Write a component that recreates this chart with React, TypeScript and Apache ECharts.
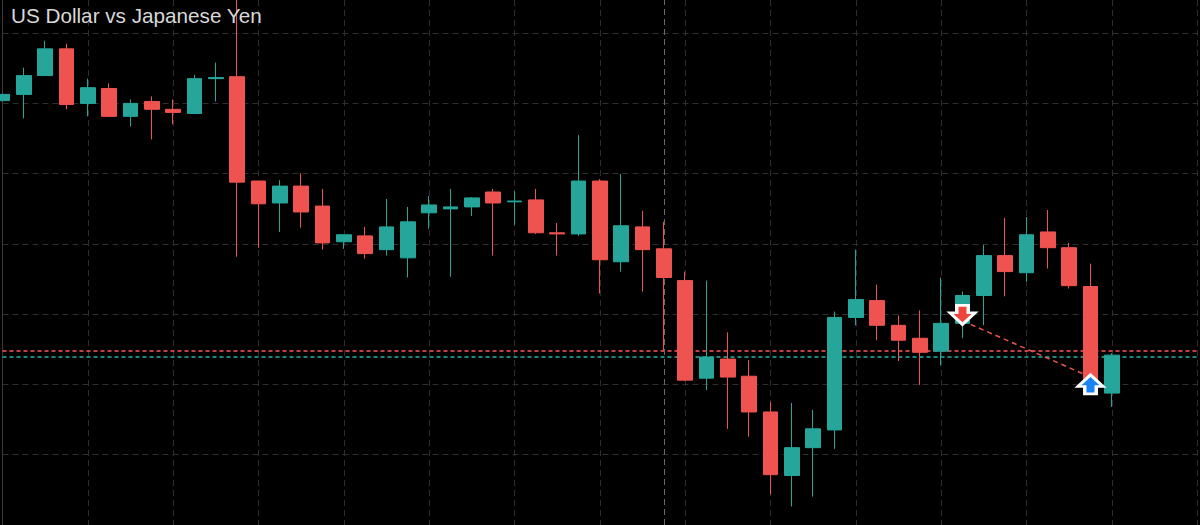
import React, { useEffect, useRef } from "react";
import * as echarts from "echarts";

// ---- data (prices) ----
const categories = Array.from({ length: 57 }, (_, i) => String(i));

const opens = [
  150.759, 150.781, 150.848, 150.943, 150.749, 150.802, 150.703, 150.756, 150.728, 150.713,
  150.837, 150.844, 150.473, 150.395, 150.455, 150.384, 150.257, 150.278, 150.229, 150.200,
  150.360, 150.374, 150.381, 150.434, 150.399, 150.406, 150.289, 150.285, 150.473, 150.186,
  150.310, 150.232, 150.119, 149.772, 149.840, 149.779, 149.652, 149.426, 149.525, 149.588,
  149.988, 150.048, 149.960, 149.914, 149.868, 149.967, 150.066, 150.208, 150.147, 150.292,
  150.236, 150.098, 149.719,
];
const closes = [
  150.781, 150.848, 150.943, 150.745, 150.805, 150.703, 150.749, 150.728, 150.717, 150.837,
  150.841, 150.469, 150.392, 150.455, 150.363, 150.253, 150.282, 150.215, 150.310, 150.328,
  150.388, 150.381, 150.413, 150.395, 150.402, 150.289, 150.285, 150.473, 150.193, 150.314,
  150.229, 150.130, 149.765, 149.847, 149.776, 149.652, 149.429, 149.525, 149.592, 149.988,
  150.052, 149.960, 149.907, 149.864, 149.967, 150.066, 150.208, 150.151, 150.282, 150.236,
  150.101, 149.726, 149.854,
];
const lows = [
  150.756, 150.696, 150.848, 150.728, 150.703, 150.703, 150.667, 150.621, 150.675, 150.713,
  150.756, 150.204, 150.236, 150.292, 150.307, 150.229, 150.232, 150.197, 150.208, 150.130,
  150.303, 150.133, 150.349, 150.208, 150.317, 150.285, 150.208, 150.278, 150.073, 150.151,
  150.080, 149.868, 149.762, 149.730, 149.592, 149.564, 149.358, 149.316, 149.351, 149.521,
  149.960, 149.907, 149.833, 149.748, 149.818, 149.914, 149.960, 150.063, 150.116, 150.162,
  150.091, 149.719, 149.670,
];
const highs = [
  150.784, 150.876, 150.972, 150.961, 150.837, 150.820, 150.763, 150.774, 150.763, 150.851,
  150.894, 151.152, 150.473, 150.476, 150.501, 150.445, 150.282, 150.310, 150.409, 150.381,
  150.420, 150.445, 150.416, 150.445, 150.437, 150.445, 150.324, 150.636, 150.480, 150.498,
  150.367, 150.328, 150.151, 150.119, 149.935, 149.836, 149.687, 149.684, 149.659, 150.009,
  150.229, 150.105, 149.995, 150.013, 150.130, 150.080, 150.246, 150.342, 150.345, 150.370,
  150.253, 150.179, 149.861,
];

const askPrice = 149.872;
const bidPrice = 149.852;
const sessionBreak = "31";

const sellSignal = ["45", 149.997];
const buySignal = ["51", 149.75];
const tradeLineStart = ["45", 149.976];
const tradeLineEnd = ["51", 149.776];

const title = "US Dollar vs Japanese Yen";

const UP = "#26a69a";
const DOWN = "#ef5350";

const arrowUp = "path://M12,0 L24,11 L17.5,11 L17.5,18 L6.5,18 L6.5,11 L0,11 Z";
const arrowDown = "path://M6.5,0 L17.5,0 L17.5,7 L24,7 L12,18 L0,7 L6.5,7 Z";

export default function App() {
  const ref = useRef<HTMLDivElement>(null);

  useEffect(() => {
    if (!ref.current) return;
    const chart = echarts.init(ref.current, null, { renderer: "svg" });
    const candles = opens.map((o, i) => [o, closes[i], lows[i], highs[i]]);

    chart.setOption({
      animation: false,
      backgroundColor: "#000000",
      graphic: [
        {
          type: "text",
          left: 11,
          top: 5,
          z: 100,
          style: {
            text: title,
            fill: "#d8d8d8",
            font: '20.7px "Liberation Sans", Arial, sans-serif',
          },
        },
      ],
      grid: { left: 2.5, right: 2.83, top: 0, bottom: -2.67 },
      xAxis: {
        type: "category",
        data: categories,
        boundaryGap: false,
        axisLine: { show: false },
        axisTick: { show: false },
        axisLabel: { show: false },
        splitLine: {
          show: true,
          interval: 3,
          lineStyle: { color: "#2e2e2e", type: [6, 4], width: 1 },
        },
      },
      yAxis: {
        type: "value",
        min: 149.25,
        max: 151.1167,
        interval: 0.25,
        scale: true,
        axisLine: { show: true, lineStyle: { color: "#3a3a3a", width: 1 } },
        axisTick: { show: false },
        axisLabel: { show: false },
        splitLine: {
          show: true,
          showMaxLine: false,
          lineStyle: { color: "#2e2e2e", type: [6, 4], width: 1 },
        },
      },
      series: [
        {
          type: "candlestick",
          data: candles,
          barWidth: 15,
          clip: true,
          z: 3,
          itemStyle: {
            color: UP,
            color0: DOWN,
            borderColor: UP,
            borderColor0: DOWN,
            borderWidth: 1,
          },
          markLine: {
            silent: true,
            z: 1,
            symbol: ["none", "none"],
            label: { show: false },
            data: [
              {
                yAxis: askPrice,
                lineStyle: { color: DOWN, type: [4, 3], width: 2, opacity: 0.8 },
              },
              {
                yAxis: bidPrice,
                lineStyle: { color: UP, type: [4, 3], width: 2, opacity: 0.8 },
              },
              {
                xAxis: sessionBreak,
                lineStyle: { color: "#6a6a6a", type: [6, 4], width: 1 },
              },
              [
                {
                  coord: tradeLineStart,
                  lineStyle: { color: DOWN, type: [5, 4], width: 1.5, opacity: 1 },
                },
                { coord: tradeLineEnd },
              ],
            ],
          },
        },
        {
          type: "scatter",
          z: 10,
          silent: true,
          symbol: arrowDown,
          symbolSize: [25, 19],
          itemStyle: { color: "#f0463a", borderColor: "#ffffff", borderWidth: 3, opacity: 1 },
          data: [sellSignal],
        },
        {
          type: "scatter",
          z: 10,
          silent: true,
          symbol: arrowUp,
          symbolSize: [25, 19],
          itemStyle: { color: "#1a84f5", borderColor: "#ffffff", borderWidth: 3, opacity: 1 },
          data: [buySignal],
        },
      ],
    });

    return () => chart.dispose();
  }, []);

  return (
    <div
      ref={ref}
      style={{
        position: "fixed",
        left: 0,
        top: 0,
        width: 1200,
        height: 525,
        background: "#000",
      }}
    />
  );
}
